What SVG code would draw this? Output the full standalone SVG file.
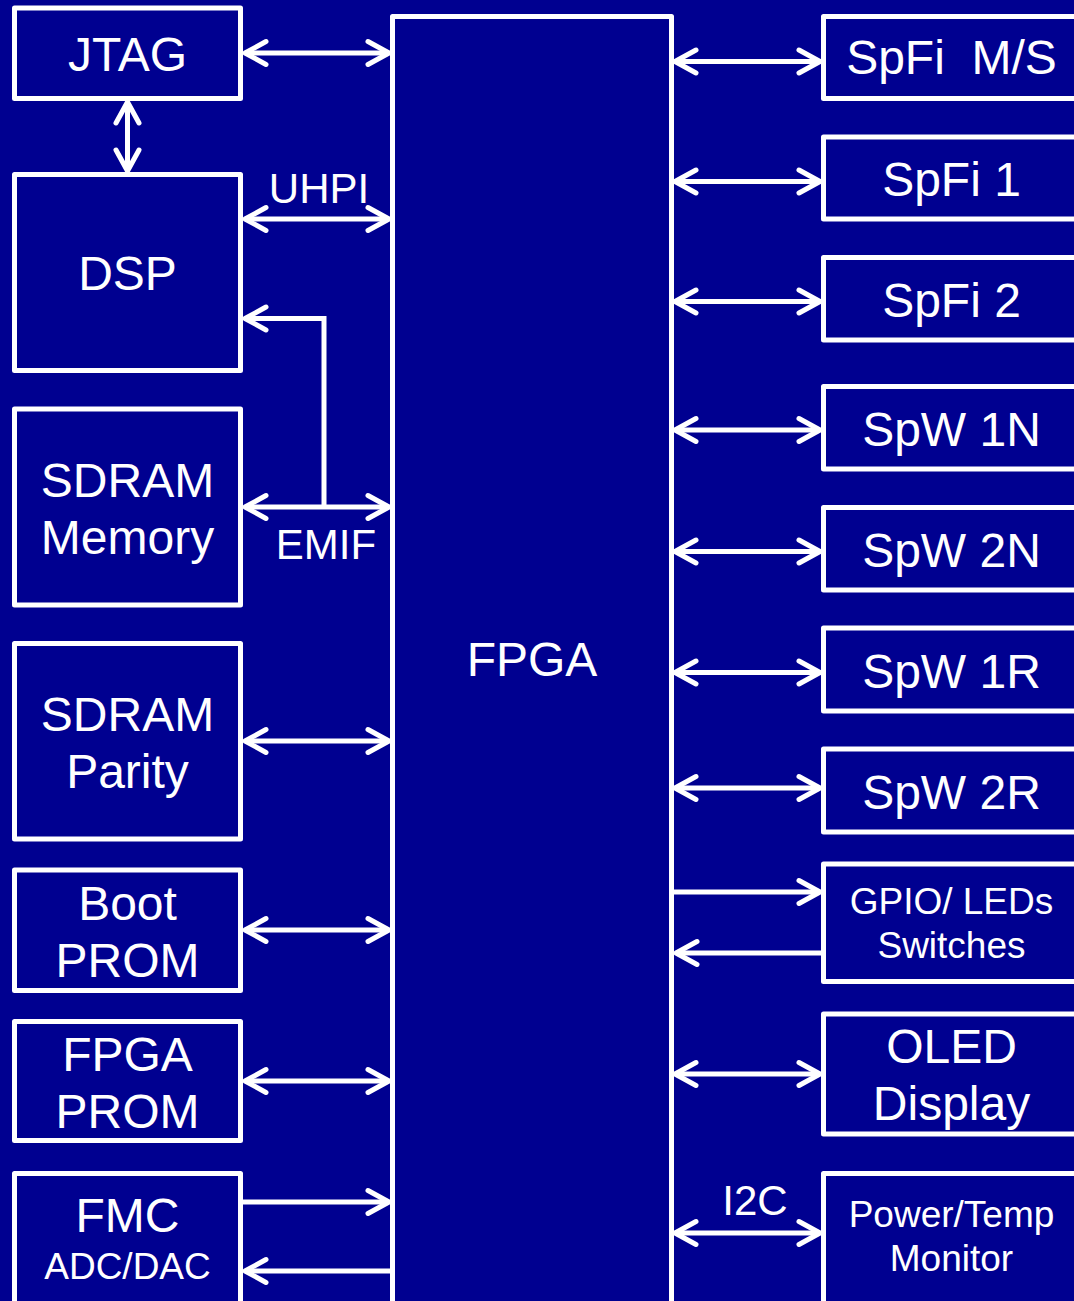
<svg xmlns="http://www.w3.org/2000/svg" width="1074" height="1301" viewBox="0 0 1074 1301">
<style>
.box{fill:#000090;stroke:#ffffff;stroke-width:5;stroke-linejoin:round}
.t{fill:#ffffff;font-family:"Liberation Sans",Arial,sans-serif;font-size:48px;text-anchor:middle}
.s{font-size:37px}
.lbl{font-size:42px}
.c{fill:none;stroke:#ffffff;stroke-width:5}
</style>
<defs>
<marker id="ah" markerUnits="userSpaceOnUse" viewBox="-28 -16 32 32" markerWidth="32" markerHeight="32" refX="0" refY="0" orient="auto-start-reverse" overflow="visible">
<path d="M-21,-11.5 L0,0 L-21,11.5" fill="none" stroke="#ffffff" stroke-width="5" stroke-linecap="round" stroke-linejoin="round"/>
</marker>
</defs>
<rect x="0" y="0" width="1074" height="1301" fill="#000090"/>

<g id="connectors">
<line class="c" x1="245" y1="53" x2="389" y2="53" marker-start="url(#ah)" marker-end="url(#ah)"/>
<line class="c" x1="127.5" y1="102" x2="127.5" y2="171" marker-start="url(#ah)" marker-end="url(#ah)"/>
<line class="c" x1="245" y1="219" x2="389" y2="219" marker-start="url(#ah)" marker-end="url(#ah)"/>
<line class="c" x1="245" y1="507" x2="389" y2="507" marker-start="url(#ah)" marker-end="url(#ah)"/>
<polyline class="c" points="324,507 324,318.5 245,318.5" marker-end="url(#ah)"/>
<line class="c" x1="245" y1="741" x2="389" y2="741" marker-start="url(#ah)" marker-end="url(#ah)"/>
<line class="c" x1="245" y1="930" x2="389" y2="930" marker-start="url(#ah)" marker-end="url(#ah)"/>
<line class="c" x1="245" y1="1081" x2="389" y2="1081" marker-start="url(#ah)" marker-end="url(#ah)"/>
<line class="c" x1="243" y1="1202" x2="389" y2="1202" marker-end="url(#ah)"/>
<line class="c" x1="390" y1="1271" x2="245" y2="1271" marker-end="url(#ah)"/>

<line class="c" x1="675" y1="61.5" x2="820" y2="61.5" marker-start="url(#ah)" marker-end="url(#ah)"/>
<line class="c" x1="675" y1="181.5" x2="820" y2="181.5" marker-start="url(#ah)" marker-end="url(#ah)"/>
<line class="c" x1="675" y1="301.5" x2="820" y2="301.5" marker-start="url(#ah)" marker-end="url(#ah)"/>
<line class="c" x1="675" y1="430" x2="820" y2="430" marker-start="url(#ah)" marker-end="url(#ah)"/>
<line class="c" x1="675" y1="551.5" x2="820" y2="551.5" marker-start="url(#ah)" marker-end="url(#ah)"/>
<line class="c" x1="675" y1="672.5" x2="820" y2="672.5" marker-start="url(#ah)" marker-end="url(#ah)"/>
<line class="c" x1="675" y1="788" x2="820" y2="788" marker-start="url(#ah)" marker-end="url(#ah)"/>
<line class="c" x1="674" y1="892" x2="820" y2="892" marker-end="url(#ah)"/>
<line class="c" x1="821" y1="953" x2="676" y2="953" marker-end="url(#ah)"/>
<line class="c" x1="675" y1="1074" x2="820" y2="1074" marker-start="url(#ah)" marker-end="url(#ah)"/>
<line class="c" x1="675" y1="1233" x2="820" y2="1233" marker-start="url(#ah)" marker-end="url(#ah)"/>
<text class="t lbl" x="319" y="203">UHPI</text>
<text class="t lbl" x="326" y="559">EMIF</text>
<text class="t lbl" x="755" y="1215">I2C</text>
</g>

<g id="fpga">
<rect class="box" x="392.5" y="16.5" width="279" height="1310"/>
<text class="t" x="532" y="676">FPGA</text>
</g>

<g id="jtag">
<rect class="box" x="14.5" y="8" width="226" height="90.5"/>
<text class="t" x="127.5" y="71">JTAG</text>
</g>
<g id="dsp">
<rect class="box" x="14.5" y="174.5" width="226" height="196"/>
<text class="t" x="127.5" y="290">DSP</text>
</g>
<g id="sdram-memory">
<rect class="box" x="14.5" y="409" width="226" height="196"/>
<text class="t" x="127.5" y="497">SDRAM</text>
<text class="t" x="127.5" y="554">Memory</text>
</g>
<g id="sdram-parity">
<rect class="box" x="14.5" y="643.5" width="226" height="195.5"/>
<text class="t" x="127.5" y="731">SDRAM</text>
<text class="t" x="127.5" y="788">Parity</text>
</g>
<g id="boot-prom">
<rect class="box" x="14.5" y="870" width="226" height="120.5"/>
<text class="t" x="127.5" y="920">Boot</text>
<text class="t" x="127.5" y="977">PROM</text>
</g>
<g id="fpga-prom">
<rect class="box" x="14.5" y="1021.5" width="226" height="119"/>
<text class="t" x="127.5" y="1071">FPGA</text>
<text class="t" x="127.5" y="1128">PROM</text>
</g>
<g id="fmc">
<rect class="box" x="14.5" y="1173.5" width="226" height="150"/>
<text class="t" x="127.5" y="1232">FMC</text>
<text class="t s" x="127.5" y="1279">ADC/DAC</text>
</g>

<g id="spfi-ms">
<rect class="box" x="823.5" y="16.5" width="257" height="82"/>
<text class="t" x="951.5" y="74" xml:space="preserve">SpFi  M/S</text>
</g>
<g id="spfi-1">
<rect class="box" x="823.5" y="137" width="257" height="82"/>
<text class="t" x="951.5" y="196">SpFi 1</text>
</g>
<g id="spfi-2">
<rect class="box" x="823.5" y="257.5" width="257" height="82.5"/>
<text class="t" x="951.5" y="317">SpFi 2</text>
</g>
<g id="spw-1n">
<rect class="box" x="823.5" y="386.5" width="257" height="82.5"/>
<text class="t" x="951.5" y="446">SpW 1N</text>
</g>
<g id="spw-2n">
<rect class="box" x="823.5" y="507.5" width="257" height="82.5"/>
<text class="t" x="951.5" y="567">SpW 2N</text>
</g>
<g id="spw-1r">
<rect class="box" x="823.5" y="628" width="257" height="83"/>
<text class="t" x="951.5" y="688">SpW 1R</text>
</g>
<g id="spw-2r">
<rect class="box" x="823.5" y="749" width="257" height="83"/>
<text class="t" x="951.5" y="809">SpW 2R</text>
</g>
<g id="gpio">
<rect class="box" x="823.5" y="864" width="257" height="117.5"/>
<text class="t s" x="951.5" y="914">GPIO/ LEDs</text>
<text class="t s" x="951.5" y="958">Switches</text>
</g>
<g id="oled">
<rect class="box" x="823.5" y="1014" width="257" height="120"/>
<text class="t" x="951.5" y="1063">OLED</text>
<text class="t" x="951.5" y="1120">Display</text>
</g>
<g id="power-temp">
<rect class="box" x="823.5" y="1173.5" width="257" height="150"/>
<text class="t s" x="951.5" y="1227">Power/Temp</text>
<text class="t s" x="951.5" y="1271">Monitor</text>
</g>
</svg>
